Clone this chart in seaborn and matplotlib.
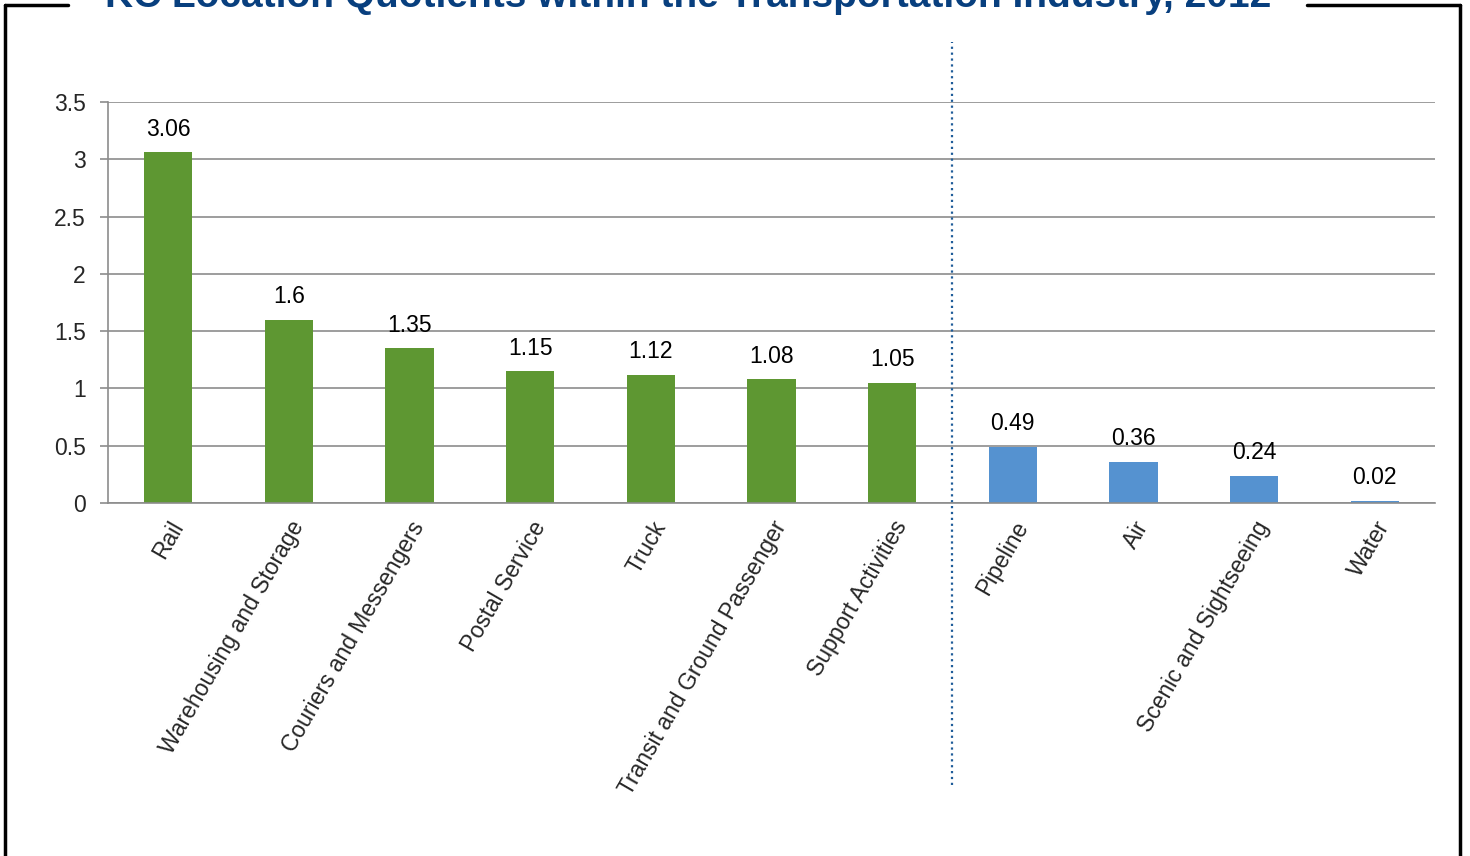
import numpy as np
import pandas as pd
import matplotlib
matplotlib.use('Agg')
import matplotlib.pyplot as plt
import seaborn as sns

categories = ['Rail', 'Warehousing and Storage', 'Couriers and Messengers', 'Postal Service',
              'Truck', 'Transit and Ground Passenger', 'Support Activities',
              'Pipeline', 'Air', 'Scenic and Sightseeing', 'Water']
values = [3.06, 1.6, 1.35, 1.15, 1.12, 1.08, 1.05, 0.49, 0.36, 0.24, 0.02]
labels = ['3.06', '1.6', '1.35', '1.15', '1.12', '1.08', '1.05', '0.49', '0.36', '0.24', '0.02']
groups = ['above'] * 7 + ['below'] * 4

df = pd.DataFrame({'industry': categories, 'lq': values, 'group': groups})

sns.set_style('white')
plt.rcParams['font.family'] = ['Liberation Sans', 'DejaVu Sans']

fig = plt.figure(figsize=(14.7, 8.56), dpi=100)
ax = fig.add_axes([108 / 1470, 1 - 503 / 856, (1435 - 108) / 1470, (503 - 102) / 856])

palette = {'above': '#5E9732', 'below': '#5592D0'}
sns.barplot(data=df, x='industry', y='lq', hue='group', palette=palette, dodge=False,
            width=0.4, legend=False, ax=ax, saturation=1, linewidth=0)

for i, (v, t) in enumerate(zip(values, labels)):
    ax.text(i, v + 0.1, t, ha='center', va='bottom', fontsize=16.5, color='black')

ax.set_ylim(0, 3.5)
ax.set_xlim(-0.5, len(categories) - 0.5)
ax.set_yticks(np.arange(0, 3.51, 0.5))
ax.set_yticklabels(['0', '0.5', '1', '1.5', '2', '2.5', '3', '3.5'], fontsize=16.5)
ax.yaxis.grid(True, color='#8c8c8c', linewidth=1.2)
ax.set_axisbelow(True)
ax.set_xlabel('')
ax.set_ylabel('')

ax.set_xticks(np.arange(len(categories)))
ax.set_xticklabels(categories, rotation=60, ha='right', rotation_mode='anchor', fontsize=16.5)
ax.tick_params(axis='x', length=0, pad=10)
ax.set_xticks(np.arange(-0.5, len(categories), 1), minor=True)
ax.tick_params(axis='x', which='minor', length=6, color='#8c8c8c', width=1.2, direction='out')
ax.tick_params(axis='y', length=6, color='#8c8c8c', width=1.2, direction='out', left=True, pad=10)

for s in ['top', 'right']:
    ax.spines[s].set_visible(False)
for s in ['left', 'bottom']:
    ax.spines[s].set_color('#8c8c8c')
    ax.spines[s].set_linewidth(1.2)

# divider between groups
ax.plot([6.5, 6.5], [-2.46, 4.02], linestyle=':', color='#1F5C99', linewidth=1.6, clip_on=False)

# frame
fc = 'black'
fig.add_artist(plt.Line2D([5 / 1470, 5 / 1470], [0, 1 - 5 / 856], color=fc, lw=2.5, transform=fig.transFigure))
fig.add_artist(plt.Line2D([1460 / 1470, 1460 / 1470], [0, 1 - 5 / 856], color=fc, lw=2.5, transform=fig.transFigure))
fig.add_artist(plt.Line2D([5 / 1470, 68 / 1470], [1 - 5 / 856, 1 - 5 / 856], color=fc, lw=2.5, transform=fig.transFigure))
fig.add_artist(plt.Line2D([1307 / 1470, 1460 / 1470], [1 - 5 / 856, 1 - 5 / 856], color=fc, lw=2.5, transform=fig.transFigure))

# title sits on the frame, partly cut off at the top as in the source
fig.text(688 / 1470, 1 - 7 / 856, 'KC Location Quotients within the Transportation Industry, 2012',
         ha='center', va='baseline', fontsize=28, fontweight='bold', color='#083F7E')

fig.savefig('out.png', dpi=100)
